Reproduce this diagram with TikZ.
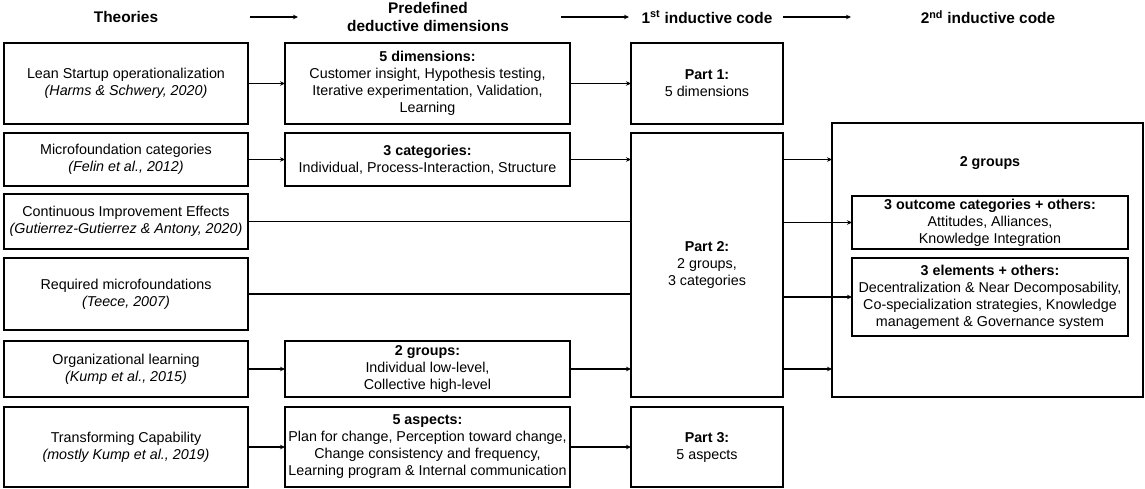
\documentclass[tikz,border=0pt]{standalone}
\usepackage{fontspec}
\setmainfont{Liberation Sans}
\usetikzlibrary{arrows.meta}
\newcommand{\bodyfont}{\fontsize{14.3}{17}\selectfont}
\newcommand{\headfont}{\fontsize{15.4}{19}\selectfont\bfseries}
\tikzset{
  box/.style={draw, line width=1.6pt, inner sep=0pt, outer sep=0pt, align=center, font=\bodyfont},
  head/.style={inner sep=0pt, align=center, font=\headfont},
  arr/.style={line width=1.2pt, -{Stealth[length=5pt,width=4.5pt]}},
  ln/.style={line width=1.2pt},
}
\begin{document}
\begin{tikzpicture}[x=1pt,y=-1pt]
\useasboundingbox (0,0) rectangle (1145,489);

% column headings
\node[head] (h1) at (126,17) {Theories};
\node[head] (h2) at (428,17) {Predefined\\[-1pt]deductive dimensions};
\node[head] (h3) at (707,17) {1\textsuperscript{st} inductive code};
\node[head] (h4) at (988,17) {2\textsuperscript{nd} inductive code};
\coordinate (a1s) at (250,17); \coordinate (a1e) at (298,17);
\coordinate (a2s) at (561,17); \coordinate (a2e) at (629,17);
\coordinate (a3s) at (783,17); \coordinate (a3e) at (851,17);
\draw[arr] (a1s) -- (a1e);
\draw[arr] (a2s) -- (a2e);
\draw[arr] (a3s) -- (a3e);

% theories
\node[box, minimum width=244pt, minimum height=81pt] (t1) at (126,83.5)
  {Lean Startup operationalization\\\textit{(Harms \& Schwery, 2020)}};
\node[box, minimum width=244pt, minimum height=53pt] (t2) at (126,159.5)
  {Microfoundation categories\\\textit{(Felin et al., 2012)}};
\node[box, minimum width=244pt, minimum height=55pt] (t3) at (126,221.5)
  {Continuous Improvement Effects\\\textit{(Gutierrez-Gutierrez \& Antony, 2020)}};
\node[box, minimum width=244pt, minimum height=72pt] (t4) at (126,294)
  {Required microfoundations\\\textit{(Teece, 2007)}};
\node[box, minimum width=244pt, minimum height=56pt] (t5) at (126,369)
  {Organizational learning\\\textit{(Kump et al., 2015)}};
\node[box, minimum width=244pt, minimum height=80pt] (t6) at (126,447)
  {Transforming Capability\\\textit{(mostly Kump et al., 2019)}};

% predefined deductive dimensions
\node[box, minimum width=285pt, minimum height=81pt] (d1) at (427.5,83.5)
  {\textbf{5 dimensions:}\\Customer insight, Hypothesis testing,\\Iterative experimentation, Validation,\\Learning};
\node[box, minimum width=285pt, minimum height=53pt] (d2) at (427.5,159.5)
  {\textbf{3 categories:}\\Individual, Process-Interaction, Structure};
\node[box, minimum width=285pt, minimum height=56pt] (d5) at (427.5,369)
  {\textbf{2 groups:}\\Individual low-level,\\Collective high-level};
\node[box, minimum width=285pt, minimum height=80pt] (d6) at (427.5,447)
  {\textbf{5 aspects:}\\Plan for change, Perception toward change,\\Change consistency and frequency,\\Learning program \& Internal communication};

% first inductive code
\node[box, minimum width=152pt, minimum height=81pt] (p1) at (707,83.5)
  {\textbf{Part 1:}\\5 dimensions};
\node[box, minimum width=152pt, minimum height=264pt] (p2) at (707,265)
  {\textbf{Part 2:}\\2 groups,\\3 categories};
\node[box, minimum width=152pt, minimum height=80pt] (p3) at (707,447)
  {\textbf{Part 3:}\\5 aspects};

% second inductive code
\node[box, minimum width=311pt, minimum height=274pt] (g) at (987.5,260) {};
\node[font=\bodyfont\bfseries, inner sep=0pt] (gl) at (990,163) {2 groups};
\node[box, minimum width=276pt, minimum height=53pt] (g1) at (990,222.5)
  {\textbf{3 outcome categories + others:}\\Attitudes, Alliances,\\Knowledge Integration};
\node[box, minimum width=276pt, minimum height=78pt] (g2) at (990,297)
  {\textbf{3 elements + others:}\\Decentralization \& Near Decomposability,\\Co-specialization strategies, Knowledge\\management \& Governance system};

% connectors
\draw[arr] (t1) -- (d1);
\draw[arr] (d1) -- (p1);
\draw[arr] (t2) -- (d2);
\draw[arr] (d2) -- (d2 -| p2.west);
\draw[ln] (t3) -- (t3 -| p2.west);
\draw[ln] (t4) -- (t4 -| p2.west);
\draw[arr] (t5) -- (d5);
\draw[arr] (d5) -- (d5 -| p2.west);
\draw[arr] (t6) -- (d6);
\draw[arr] (d6) -- (p3);
\draw[arr] (p2.east |- t2) -- (g.west |- t2);
\draw[arr] (p2.east |- g1) -- (g1);
\draw[arr] (p2.east |- g2) -- (g2);
\draw[arr] (p2.east |- t5) -- (g.west |- t5);
\end{tikzpicture}
\end{document}
